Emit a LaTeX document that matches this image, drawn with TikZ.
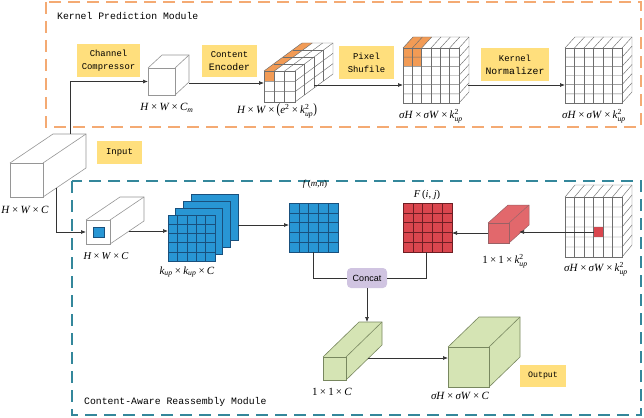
\documentclass[tikz,border=0pt]{standalone}
\usepackage{amsmath}
\usepackage{fontspec}
\setmainfont{Liberation Serif}
\newfontfamily\monof{Liberation Mono}
\newfontfamily\sansf{Liberation Sans}
\usepackage{graphicx}
\usetikzlibrary{arrows.meta,calc}

\definecolor{dashor}{RGB}{244,170,115}
\definecolor{dashteal}{RGB}{52,135,155}
\definecolor{ylw}{RGB}{255,223,125}
\definecolor{orcell}{RGB}{242,155,85}
\definecolor{bluef}{RGB}{40,150,212}
\definecolor{bluel}{RGB}{25,80,125}
\definecolor{redf}{RGB}{218,70,78}
\definecolor{redl}{RGB}{110,30,35}
\definecolor{redc}{RGB}{226,104,108}
\definecolor{greenf}{RGB}{213,228,180}
\definecolor{greenl}{RGB}{120,135,95}
\definecolor{concatf}{RGB}{208,196,225}
\definecolor{cubeedge}{RGB}{150,150,150}
\definecolor{gridcol}{RGB}{110,110,110}

\newcommand{\tms}{\kern0.2em\textup{×}\kern0.2em}
\newcommand{\ti}[1]{\text{\itshape #1}}
\newcommand{\kupsq}{\ensuremath{\ti{k}^{\text{2}}_{\ti{up}}}}
\newcommand{\kup}{\ensuremath{\ti{k}_{\ti{up}}}}

% faces fill: x y w h dx du colour
\newcommand{\cubefill}[7]{%
  \fill[#7] (#1,#2) rectangle ({#1+#3},{#2+#4});
  \fill[#7] (#1,#2) -- ({#1+#3},#2) -- ({#1+#3+#5},{#2-#6}) -- ({#1+#5},{#2-#6}) -- cycle;
  \fill[#7] ({#1+#3},#2) -- ({#1+#3+#5},{#2-#6}) -- ({#1+#3+#5},{#2+#4-#6}) -- ({#1+#3},{#2+#4}) -- cycle;
}
% outline: x y w h dx du style
\newcommand{\cubeedges}[7]{%
  \draw[#7] (#1,#2) rectangle ({#1+#3},{#2+#4});
  \draw[#7] (#1,#2) -- ({#1+#5},{#2-#6}) -- ({#1+#3+#5},{#2-#6}) -- ({#1+#3+#5},{#2+#4-#6}) -- ({#1+#3},{#2+#4});
  \draw[#7] ({#1+#3},#2) -- ({#1+#3+#5},{#2-#6});
}
% grid lines: x y w h dx du ncol nrow ndepth
\newcommand{\cubegrid}[9]{%
  \pgfmathtruncatemacro\gcA{#7-1}
  \foreach \i in {1,...,\gcA}{
    \draw[gridln] ({#1+\i*#3/#7},#2) -- ({#1+\i*#3/#7},{#2+#4});
    \draw[gridln] ({#1+\i*#3/#7},#2) -- ({#1+\i*#3/#7+#5},{#2-#6});
  }
  \pgfmathtruncatemacro\gcB{#8-1}
  \foreach \j in {1,...,\gcB}{
    \draw[gridln] (#1,{#2+\j*#4/#8}) -- ({#1+#3},{#2+\j*#4/#8}) -- ({#1+#3+#5},{#2+\j*#4/#8-#6});
  }
  \ifnum#9>1\relax
    \pgfmathtruncatemacro\gcC{#9-1}
    \foreach \k in {1,...,\gcC}{
      \draw[gridln] ({#1+\k*#5/#9},{#2-\k*#6/#9}) -- ({#1+#3+\k*#5/#9},{#2-\k*#6/#9}) -- ({#1+#3+\k*#5/#9},{#2+#4-\k*#6/#9});
    }
  \fi
  \cubeedges{#1}{#2}{#3}{#4}{#5}{#6}{gridln}
}
% flat grid: x y w h n style
\newcommand{\flatgrid}[6]{%
  \pgfmathtruncatemacro\gcD{#5-1}
  \foreach \i in {1,...,\gcD}{
    \draw[#6] ({#1+\i*#3/#5},#2) -- ({#1+\i*#3/#5},{#2+#4});
    \draw[#6] (#1,{#2+\i*#4/#5}) -- ({#1+#3},{#2+\i*#4/#5});
  }
  \draw[#6] (#1,#2) rectangle ({#1+#3},{#2+#4});
}

\tikzset{
  gridln/.style={draw=gridcol,line width=0.45pt},
  ybox/.style={fill=ylw,align=center,inner sep=0pt,font=\monof\fontsize{8.9}{13}\selectfont},
  dimlab/.style={inner sep=0pt,font=\fontsize{11}{12}\selectfont},
  title/.style={inner sep=0pt,anchor=west,font=\monof\fontsize{9.8}{11}\selectfont},
  arr/.style={draw=black!80,line width=0.7pt,-{Latex[length=5pt,width=4pt]}},
  ln/.style={draw=black!80,line width=0.7pt},
  modor/.style={draw=dashor,line width=1.3pt,dash pattern=on 12pt off 7pt},
  modteal/.style={draw=dashteal,line width=1.3pt,dash pattern=on 12pt off 7pt},
  concatbox/.style={fill=concatf,rounded corners=4pt,minimum width=40pt,minimum height=20pt,inner sep=0pt,font=\sansf\fontsize{9}{10}\selectfont},
  bluegrid/.style={draw=bluel,line width=0.5pt},
  redgrid/.style={draw=redl,line width=0.5pt},
}

\begin{document}
\begin{tikzpicture}[x=1pt,y=-1pt]
\useasboundingbox (0,0) rectangle (644,417);

% module frames
\draw[modor] (46,2) rectangle (641,127);
\draw[modteal] (72,181) rectangle (641,415);
\node[title] (t1) at (57,16) {Kernel Prediction Module};
\node[title] (t2) at (84,402) {Content-Aware Reassembly Module};

% yellow labels
\node[ybox,minimum width=63pt,minimum height=33pt] (chc) at (108.5,60.5) {Channel\\Compressor};
\node[ybox,minimum width=55pt,minimum height=32pt] (cen) at (229.5,61) {Content\\{\fontsize{9.8}{11}\selectfont Encoder}};
\node[ybox,minimum width=55pt,minimum height=33pt] (psh) at (366.5,62.5) {Pixel\\Shufile};
\node[ybox,minimum width=68pt,minimum height=33pt] (kno) at (515,64.5) {Kernel\\{\fontsize{9.8}{11}\selectfont Normalizer}};
\node[ybox,minimum width=45pt,minimum height=23pt] (inp) at (119.5,152.5) {Input};
\node[ybox,minimum width=46pt,minimum height=22pt,font=\monof\fontsize{8.3}{10}\selectfont] (outp) at (543,376) {Output};

% input cube
\cubefill{10}{163}{33}{34}{43}{29}{white}
\cubeedges{10}{163}{33}{34}{43}{29}{draw=cubeedge,line width=0.6pt}
% Cm cube
\cubefill{148}{68}{27}{27}{14}{13}{white}
\cubeedges{148}{68}{27}{27}{14}{13}{draw=cubeedge,line width=0.6pt}
% encoder cube
\cubefill{264}{71}{31}{31}{38}{28}{white}
\fill[orcell] (264,71) rectangle ({264+31/3},{71+31/3});
\fill[orcell] (264,71) -- ({264+31/3},71) -- ({264+31/3+38},43) -- (302,43) -- cycle;
\cubegrid{264}{71}{31}{31}{38}{28}{3}{3}{4}
% pixel shuffle cube
\cubefill{403}{48}{56}{55}{10}{11}{white}
\fill[orcell] (403,48) rectangle ({403+2*56/6},{48+2*55/6});
\fill[orcell] (403,48) -- ({403+2*56/6},48) -- ({403+2*56/6+10},37) -- (413,37) -- cycle;
\cubegrid{403}{48}{56}{55}{10}{11}{6}{6}{1}
% normalizer cube
\cubefill{565}{48}{57}{55}{10}{11}{white}
\cubegrid{565}{48}{57}{55}{10}{11}{6}{6}{1}
% sampler cube
\cubefill{565}{197}{57}{60}{10}{12}{white}
\fill[redf] (593.5,227) rectangle (603,237);
\cubegrid{565}{197}{57}{60}{10}{12}{6}{6}{1}
% mid H x W x C cube
\cubefill{86}{220}{24}{24}{34}{23}{white}
\cubeedges{86}{220}{24}{24}{34}{23}{draw=cubeedge,line width=0.6pt}
\filldraw[fill=bluef,draw=bluel,line width=0.4pt] (93,227) rectangle (104,237);
% red kernel cube
\cubefill{488}{223}{21}{20}{20}{18}{redc}
\cubeedges{488}{223}{21}{20}{20}{18}{draw=redl!70,line width=0.5pt}
% green cubes
\cubefill{323}{357}{23}{23}{36}{35}{greenf}
\cubeedges{323}{357}{23}{23}{36}{35}{draw=greenl,line width=0.6pt}
\cubefill{448}{347}{41}{40}{31}{30}{greenf}
\cubeedges{448}{347}{41}{40}{31}{30}{draw=greenl,line width=0.6pt}

% blue stack
\foreach \s in {3,2,1}{
  \filldraw[fill=bluef,draw=bluel,line width=0.5pt] ({168+\s*7.7},{215-\s*7}) rectangle ++(47,46);
}
\fill[bluef] (168,215) rectangle ++(47,46);
\flatgrid{168}{215}{47}{46}{5}{bluegrid}
% f(m,n) grid
\fill[bluef] (289,203) rectangle (338,252);
\flatgrid{289}{203}{49}{49}{5}{bluegrid}
% F(i,j) grid
\fill[redf] (403,203) rectangle (452,252);
\flatgrid{403}{203}{49}{49}{5}{redgrid}

% dimension labels
\node[dimlab] (lcm) at (167,108) {\textit{H}\tms\textit{W}\tms\ensuremath{\ti{C}_{\ti{m}}}};
\node[dimlab] (lenc) at (277,111) {\textit{H}\tms\textit{W}\tms\scalebox{1}[1.3]{(}\ensuremath{\ti{e}^{\text{2}}}\tms\kupsq\scalebox{1}[1.3]{)}};
\node[dimlab] (lpix) at (431,116) {\textit{σH}\tms\textit{σW}\tms\kupsq};
\node[dimlab] (lnorm) at (594,116) {\textit{σH}\tms\textit{σW}\tms\kupsq};
\node[dimlab] (lin) at (25,210) {\textit{H}\tms\textit{W}\tms\textit{C}};
\node[dimlab,font=\fontsize{10.5}{12}\selectfont] (lmid) at (106,256) {\textit{H}\tms\textit{W}\tms\textit{C}};
\node[dimlab] (lstk) at (187,272) {\kup\tms\kup\tms\textit{C}};
\node[dimlab,font=\fontsize{9}{10}\selectfont] (lf) at (315,184) {\textit{f}\,(\textit{m},\textit{n})};
\node[dimlab,font=\fontsize{10.5}{12}\selectfont] (lF) at (427,195) {\textit{F}\,(\textit{i}, \textit{j})};
\node[dimlab] (lred) at (505,261) {1\tms1\tms\kupsq};
\node[dimlab] (lsamp) at (596,269) {\textit{σH}\tms\textit{σW}\tms\kupsq};
\node[dimlab] (lg1) at (332,392) {1\tms1\tms\textit{C}};
\node[dimlab] (lg2) at (460,396) {\textit{σH}\tms\textit{σW}\tms\textit{C}};

% concat
\node[concatbox] (cc) at (367,278) {Concat};

% connector coordinates
\coordinate (inTop) at (70,134);
\coordinate (cmL) at (148,81.5);
\coordinate (cmR) at (189,83);
\coordinate (encL) at (264,83);
\coordinate (encR) at (314,85);
\coordinate (pixL) at (403,85);
\coordinate (pixR) at (468,85);
\coordinate (normL) at (565,85);
\coordinate (inBot) at (56,188);
\coordinate (midL) at (86,232);
\coordinate (midR) at (129,231);
\coordinate (stkL) at (168,231);
\coordinate (stkR) at (238,225);
\coordinate (fL) at (289,225);
\coordinate (sampCell) at (593.5,232);
\coordinate (redR) at (519,232);
\coordinate (redL) at (488,233);
\coordinate (FR) at (452,233);
\coordinate (fB) at (313,252);
\coordinate (FB) at (426,252);
\coordinate (g1T) at (367,322);
\coordinate (g1R) at (368,358);
\coordinate (g2L) at (448,358);

% connectors
\draw[arr] (inTop) |- (cmL);
\draw[arr] (cmR) -- (encL);
\draw[arr] (encR) -- (pixL);
\draw[arr] (pixR) -- (normL);
\draw[arr] (inBot) |- (midL);
\draw[arr] (midR) -- (stkL);
\draw[arr] (stkR) -- (fL);
\draw[arr] (sampCell) -- (redR);
\draw[arr] (redL) -- (FR);
\draw[ln] (fB) |- (cc.west);
\draw[ln] (FB) |- (cc.east);
\draw[arr] (cc.south) -- (g1T);
\draw[arr] (g1R) -- (g2L);
\end{tikzpicture}
\end{document}
